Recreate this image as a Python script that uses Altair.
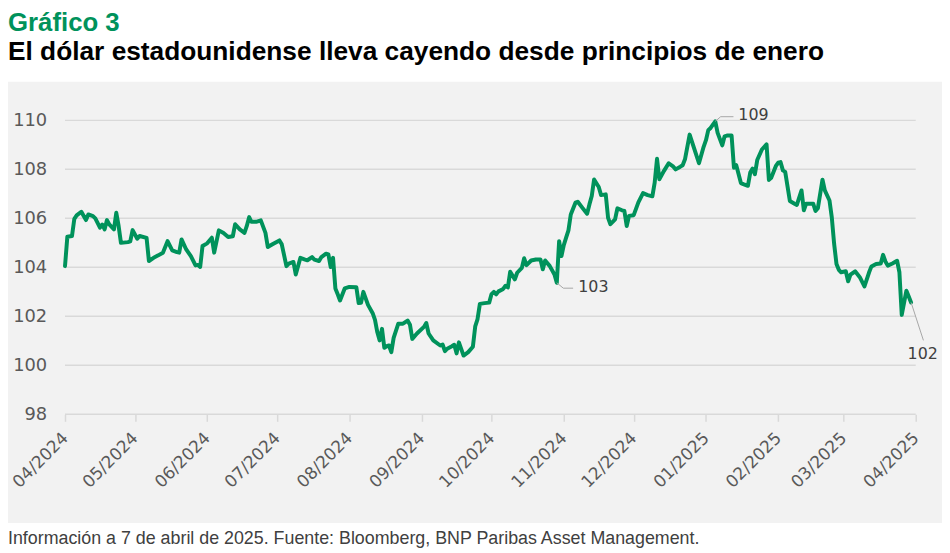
import altair as alt
import pandas as pd

# ---------------- data ----------------
START_DATE = "2024-04-01"

day_offsets = [
    0, 1, 3, 4, 5, 7, 9, 10, 12, 13,
    15, 16, 17, 18, 19, 21, 22, 23, 24, 27,
    28, 29, 31, 32, 35, 36, 38, 40, 42, 44,
    46, 48, 49, 50, 52, 54, 56, 57, 58, 59,
    61, 63, 64, 66, 68, 70, 72, 73, 75, 77,
    78, 79, 80, 82, 84, 86, 87, 89, 92, 93,
    95, 96, 98, 99, 101, 103, 104, 106, 107, 109,
    110, 112, 113, 114, 115, 116, 117, 118, 120, 122,
    125, 126, 127, 128, 130, 132, 133, 134, 135, 136,
    137, 138, 139, 140, 141, 143, 145, 147, 148, 149,
    151, 154, 155, 156, 158, 161, 162, 163, 164, 166,
    167, 168, 169, 171, 173, 175, 176, 177, 178, 180,
    182, 183, 184, 185, 186, 188, 189, 190, 191, 193,
    194, 196, 197, 198, 200, 202, 204, 205, 206, 208,
    210, 211, 212, 213, 214, 215, 216, 217, 219, 220,
    222, 224, 225, 226, 227, 229, 230, 232, 233, 234,
    236, 237, 239, 240, 241, 242, 244, 246, 248, 250,
    252, 253, 254, 255, 257, 259, 261, 262, 264, 265,
    266, 268, 270, 272, 274, 275, 276, 277, 279, 280,
    282, 283, 284, 286, 287, 288, 290, 291, 293, 294,
    295, 296, 297, 299, 301, 302, 303, 305, 306, 307,
    308, 309, 311, 313, 314, 316, 317, 318, 321, 322,
    323, 325, 326, 328, 329, 330, 331, 332, 333, 335,
    336, 337, 339, 341, 343, 345, 346, 348, 350, 351,
    352, 353, 355, 357, 358, 359, 361, 362, 363,
]

dxy_values = [
    104.05, 105.25, 105.28, 105.98, 106.12, 106.27, 105.93, 106.16, 106.09, 106.00,
    105.62, 105.75, 105.55, 105.93, 105.75, 105.55, 106.23, 105.69, 105.00, 105.03,
    105.06, 105.52, 105.17, 105.28, 105.20, 104.26, 104.39, 104.49, 104.60, 105.07,
    104.69, 104.62, 104.60, 105.14, 104.73, 104.46, 104.08, 104.10, 104.02, 104.87,
    104.98, 105.21, 104.60, 105.51, 105.40, 105.24, 105.27, 105.76, 105.55, 105.41,
    105.69, 106.05, 105.86, 105.86, 105.92, 105.41, 104.83, 104.94, 105.10, 104.94,
    104.05, 104.15, 104.22, 103.71, 104.39, 104.32, 104.29, 104.42, 104.32, 104.26,
    104.42, 104.56, 104.53, 104.01, 104.39, 103.14, 102.90, 102.65, 103.14, 103.20,
    103.19, 102.54, 102.55, 103.00, 102.47, 102.13, 101.86, 101.35, 101.02, 101.49,
    100.72, 100.78, 100.81, 100.54, 101.12, 101.70, 101.70, 101.83, 101.66, 101.08,
    101.30, 101.57, 101.73, 101.30, 101.02, 100.81, 100.85, 100.58, 100.68, 100.78,
    100.84, 100.49, 100.94, 100.40, 100.54, 100.76, 101.59, 101.89, 102.51, 102.54,
    102.56, 102.91, 103.00, 102.90, 103.02, 103.12, 103.25, 103.18, 103.82, 103.51,
    103.78, 103.98, 104.37, 104.09, 104.28, 104.32, 104.32, 103.92, 104.28, 104.05,
    103.71, 103.37, 105.07, 104.46, 104.91, 105.21, 105.51, 106.16, 106.64, 106.68,
    106.43, 106.19, 106.57, 106.91, 107.59, 107.28, 106.95, 106.98, 106.02, 105.76,
    105.96, 106.41, 106.33, 106.30, 105.69, 106.10, 106.13, 106.65, 107.03, 106.95,
    106.90, 107.46, 108.43, 107.60, 107.94, 108.25, 108.11, 108.00, 108.11, 108.17,
    108.41, 109.42, 108.84, 108.25, 108.92, 109.19, 109.60, 109.69, 109.96, 109.49,
    108.98, 109.35, 109.38, 109.38, 108.07, 108.17, 107.44, 107.40, 107.33, 107.87,
    108.03, 107.80, 108.38, 108.81, 109.02, 107.57, 107.66, 108.14, 108.27, 108.30,
    107.96, 107.90, 106.71, 106.60, 106.55, 107.14, 106.33, 106.60, 106.60, 106.30,
    106.41, 107.58, 107.14, 106.73, 106.03, 104.95, 104.14, 103.90, 103.80, 103.84,
    103.43, 103.70, 103.84, 103.60, 103.22, 103.80, 104.04, 104.14, 104.16, 104.51,
    104.24, 104.07, 104.16, 104.27, 103.80, 102.06, 103.05, 102.81, 102.57,
]

y_ticks = [98, 100, 102, 104, 106, 108, 110]
month_ticks = [(2024, m) for m in range(4, 13)] + [(2025, m) for m in range(1, 5)]

TITLE = "Gráfico 3"
SUBTITLE = "El dólar estadounidense lleva cayendo desde principios de enero"
FOOTER = ("Información a 7 de abril de 2025. Fuente: Bloomberg, "
          "BNP Paribas Asset Management.")

# annotation labels and their leader lines
ann_labels = ["109", "103", "102"]
ann_days = [288.9, 220.2, 368.0]
ann_vals = [110.22, 103.21, 100.78]
leader_group = ["109", "109", "109", "103", "103", "103", "102", "102"]
leader_days = [279.0, 281.3, 286.8, 211.0, 213.8, 218.0, 363.0, 368.3]
leader_vals = [109.96, 110.15, 110.15, 103.37, 103.15, 103.15, 102.57, 101.02]

# ---------------- styling ----------------
GREEN = "#00925b"
GRID = "#d9d9d9"
LABEL = "#595959"
TEXT = "#404040"
W, H = 858, 296.5
PAD = {"left": 57.5, "top": 111, "right": 26.5, "bottom": 137.5}

start = pd.Timestamp(START_DATE)


def to_dates(days):
    return (start + pd.to_timedelta(days, unit="D")).strftime("%Y-%m-%dT%H:%M:%S")


df = pd.DataFrame({"date": to_dates(day_offsets), "value": dxy_values})
ann_df = pd.DataFrame({"date": to_dates(ann_days), "value": ann_vals, "label": ann_labels})
lead_df = pd.DataFrame({
    "date": to_dates(leader_days),
    "value": leader_vals,
    "grp": leader_group,
    "seq": list(range(len(leader_days))),
})
grid_df = pd.DataFrame({"y": y_ticks})
one = pd.DataFrame({"k": [0]})

x_scale = alt.Scale(domain=[alt.DateTime(year=2024, month=4, date=1),
                            alt.DateTime(year=2025, month=4, date=1)])
y_scale = alt.Scale(domain=[98, 110], nice=False, zero=False)

x_axis = alt.Axis(
    values=[alt.DateTime(year=y, month=m, date=1) for y, m in month_ticks],
    format="%m/%Y", labelAngle=315, labelAlign="right", labelBaseline="middle",
    labelPadding=14, labelFont="DejaVu Sans", labelFontSize=17, labelColor=LABEL,
    labelOverlap=False, labelBound=False, labelFlush=False,
    tickColor=GRID, tickSize=7, tickWidth=1.5, domain=False, grid=False,
    title=None, zindex=1,
)
y_axis = alt.Axis(
    values=y_ticks, labelFont="DejaVu Sans", labelFontSize=18, labelColor=LABEL,
    labelPadding=18.5, ticks=False, tickSize=0, domain=False, grid=False,
    title=None, zindex=1,
)

background = alt.Chart(one).mark_rect(color="#f2f2f2").encode(
    x=alt.value(-57.5), x2=alt.value(W + 30), y=alt.value(-39), y2=alt.value(406)
)

grid = alt.Chart(grid_df).mark_rule(color=GRID, strokeWidth=1.5).encode(
    y=alt.Y("y:Q", scale=y_scale, axis=y_axis),
    x=alt.value(0), x2=alt.value(W),
)

line = alt.Chart(df).mark_line(
    color=GREEN, strokeWidth=4, strokeJoin="round", strokeCap="round"
).encode(
    x=alt.X("date:T", scale=x_scale, axis=x_axis),
    y=alt.Y("value:Q", scale=y_scale),
)

leaders = alt.Chart(lead_df).mark_line(color="#a6a6a6", strokeWidth=1).encode(
    x=alt.X("date:T", scale=x_scale),
    y=alt.Y("value:Q", scale=y_scale),
    detail="grp:N",
    order="seq:Q",
)

ann_side = alt.Chart(ann_df).transform_filter(alt.datum.label != "102").mark_text(
    align="left", baseline="middle", font="DejaVu Sans", fontSize=16, color=TEXT
).encode(
    x=alt.X("date:T", scale=x_scale), y=alt.Y("value:Q", scale=y_scale), text="label:N"
)
ann_below = alt.Chart(ann_df).transform_filter(alt.datum.label == "102").mark_text(
    align="center", baseline="top", font="DejaVu Sans", fontSize=16, color=TEXT
).encode(
    x=alt.X("date:T", scale=x_scale), y=alt.Y("value:Q", scale=y_scale), text="label:N"
)

title = alt.Chart(one).mark_text(
    text=TITLE, align="left", baseline="alphabetic", font="Liberation Sans",
    fontWeight="bold", fontSize=26, color=GREEN
).encode(x=alt.value(-57.5), y=alt.value(-90))

subtitle = alt.Chart(one).mark_text(
    text=SUBTITLE, align="left", baseline="alphabetic", font="Liberation Sans",
    fontWeight="bold", fontSize=26.5, color="#000000"
).encode(x=alt.value(-57.5), y=alt.value(-61))

footer = alt.Chart(one).mark_text(
    text=FOOTER, align="left", baseline="alphabetic", font="Liberation Sans",
    fontSize=18, color=TEXT
).encode(x=alt.value(-57.5), y=alt.value(427.5))

chart = alt.layer(
    background, grid, line, leaders, ann_side, ann_below, title, subtitle, footer
).properties(
    width=W, height=H, padding=PAD,
    autosize=alt.AutoSizeParams(type="none"),
    background="#ffffff",
).configure_view(stroke=None)

chart.save("out.html", embed_options={"renderer": "svg", "actions": False})
